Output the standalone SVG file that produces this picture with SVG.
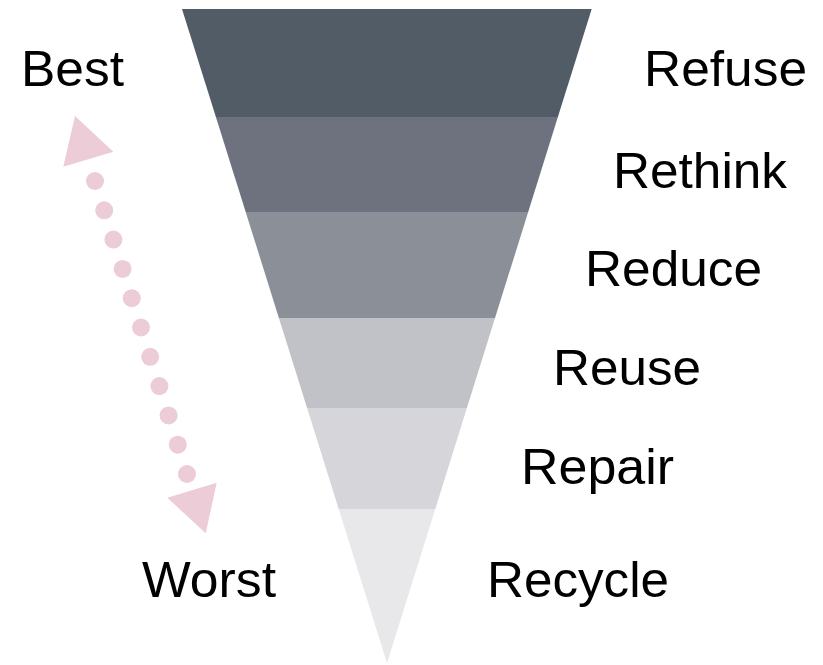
<svg xmlns="http://www.w3.org/2000/svg" width="823" height="665" viewBox="0 0 823 665">
<style>
  .lbl { font-family: "Liberation Sans", Arial, sans-serif; font-size: 50px; fill: #000; }
  .dot { fill: #ecccd6; }
  .head { fill: #ecccd6; }
</style>
<rect width="823" height="665" fill="#fff"/>
<g id="pyramid">
  <polygon id="band-refuse" points="182,9 591.7,9 557.9,117 215.9,117" fill="#525c67"/>
  <polygon id="band-rethink" points="215.9,117 557.9,117 528.2,212 245.7,212" fill="#6d727e"/>
  <polygon id="band-reduce" points="245.7,212 528.2,212 495,318 278.9,318" fill="#8b8f97"/>
  <polygon id="band-reuse" points="278.9,318 495,318 466.9,408 307.1,408" fill="#c1c2c7"/>
  <polygon id="band-repair" points="307.1,408 466.9,408 435.3,509 338.7,509" fill="#d6d6da"/>
  <polygon id="band-recycle" points="338.7,509 435.3,509 387,663" fill="#e8e8ea"/>
</g>
<g id="labels">
  <text class="lbl" x="644" y="86" textLength="163" lengthAdjust="spacingAndGlyphs">Refuse</text>
  <text class="lbl" x="613" y="188" textLength="174" lengthAdjust="spacingAndGlyphs">Rethink</text>
  <text class="lbl" x="585" y="286" textLength="177" lengthAdjust="spacingAndGlyphs">Reduce</text>
  <text class="lbl" x="553" y="385" textLength="148" lengthAdjust="spacingAndGlyphs">Reuse</text>
  <text class="lbl" x="521" y="484" textLength="153" lengthAdjust="spacingAndGlyphs">Repair</text>
  <text class="lbl" x="487" y="597" textLength="182" lengthAdjust="spacingAndGlyphs">Recycle</text>
  <text class="lbl" x="21" y="86" textLength="103" lengthAdjust="spacingAndGlyphs">Best</text>
  <text class="lbl" x="142" y="597" textLength="134" lengthAdjust="spacingAndGlyphs">Worst</text>
</g>
<g id="connectors">
  <g id="best-worst-arrow">
    <polygon class="head" points="75,116 113.3,151.7 63.3,166.7"/>
    <circle class="dot" cx="95" cy="181" r="9"/>
    <circle class="dot" cx="104.2" cy="210.3" r="9"/>
    <circle class="dot" cx="113.4" cy="239.6" r="9"/>
    <circle class="dot" cx="122.6" cy="268.9" r="9"/>
    <circle class="dot" cx="131.8" cy="298.2" r="9"/>
    <circle class="dot" cx="141" cy="327.5" r="9"/>
    <circle class="dot" cx="150.2" cy="356.8" r="9"/>
    <circle class="dot" cx="159.4" cy="386.1" r="9"/>
    <circle class="dot" cx="168.6" cy="415.4" r="9"/>
    <circle class="dot" cx="177.8" cy="444.7" r="9"/>
    <circle class="dot" cx="187" cy="474" r="9"/>
    <polygon class="head" points="216.7,482.7 205.7,533.3 167.3,497.7"/>
  </g>
</g>
</svg>
